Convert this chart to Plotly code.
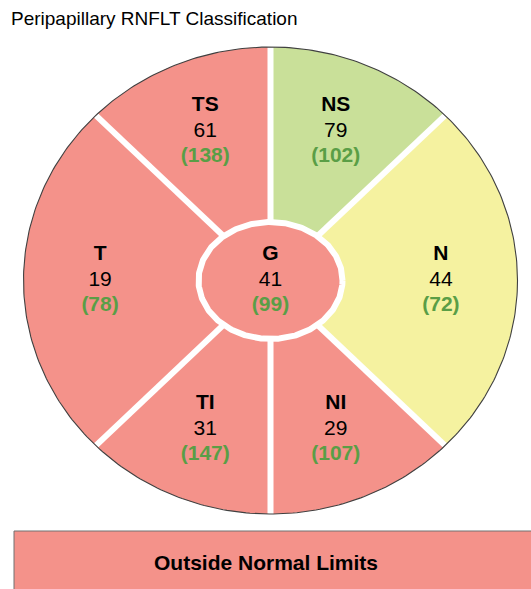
import numpy as np
import plotly.graph_objects as go

# ---------------- data ----------------
sectors = ["TS", "NS", "N", "NI", "TI", "T"]
thickness = [61, 79, 44, 29, 31, 19]
normative = [138, 102, 72, 107, 147, 78]
classes = ["outside", "within", "borderline", "outside", "outside", "outside"]
angle_start = [90, 45, -45, 270, 225, 135]
angle_end = [135, 90, 45, 315, 270, 225]

global_name = "G"
global_value = 41
global_norm = 99
global_class = "outside"

title_text = "Peripapillary RNFLT Classification"
overall_text = "Outside Normal Limits"
overall_class = "outside"

# ---------------- styles ----------------
class_colors = {"outside": "#F4928A", "borderline": "#F5F2A0", "within": "#C9E099"}
norm_color = "#5A9E46"
FONT = "Liberation Sans, Arial, Helvetica, sans-serif"

W, H = 531, 589
CX, CY = 270.5, 280.5      # ellipse centre in pixels
RX, RY = 247.0, 233.5      # outer ellipse radii in pixels
IRX, IRY = 72.0 / RX, 58.5 / RY   # inner ellipse radii (data units)
LABEL_R = 0.69
LINE_DY = 25.5 / RY

fig = go.Figure()

# sector wedges
for name, a0, a1, cl in zip(sectors, angle_start, angle_end, classes):
    t = np.radians(np.linspace(a0, a1, 120))
    xs = np.concatenate([[0], np.cos(t), [0]])
    ys = np.concatenate([[0], np.sin(t), [0]])
    fig.add_trace(go.Scatter(x=xs, y=ys, mode="lines", fill="toself",
                             fillcolor=class_colors[cl], line=dict(width=0),
                             hoverinfo="skip", showlegend=False))

# white separators
bounds = sorted(set([a % 360 for a in angle_start + angle_end]))
sx, sy = [], []
for b in bounds:
    r = np.radians(b)
    sx += [0, np.cos(r), None]
    sy += [0, np.sin(r), None]
fig.add_trace(go.Scatter(x=sx, y=sy, mode="lines", line=dict(color="white", width=6),
                         hoverinfo="skip", showlegend=False))

# outer outline
t = np.radians(np.linspace(0, 360, 400))
fig.add_trace(go.Scatter(x=np.cos(t), y=np.sin(t), mode="lines",
                         line=dict(color="#404040", width=1.1),
                         hoverinfo="skip", showlegend=False))

# inner global ellipse
fig.add_trace(go.Scatter(x=IRX * np.cos(t), y=IRY * np.sin(t), mode="lines", fill="toself",
                         fillcolor=class_colors[global_class], line=dict(color="white", width=6),
                         hoverinfo="skip", showlegend=False))

# labels
lx, ly = [], []
for a0, a1 in zip(angle_start, angle_end):
    m = np.radians((a0 + a1) / 2)
    lx.append(LABEL_R * np.cos(m))
    ly.append(LABEL_R * np.sin(m))
lx.append(0.0)
ly.append(0.0)
names = sectors + [global_name]
vals = thickness + [global_value]
norms = normative + [global_norm]
lx = np.array(lx)
ly = np.array(ly)

fig.add_trace(go.Scatter(x=lx, y=ly + LINE_DY, mode="text",
                         text=[f"<b>{n}</b>" for n in names],
                         textfont=dict(family=FONT, size=21, color="black"),
                         hoverinfo="skip", showlegend=False))
fig.add_trace(go.Scatter(x=lx, y=ly, mode="text",
                         text=[str(v) for v in vals],
                         textfont=dict(family=FONT, size=21, color="black"),
                         hoverinfo="skip", showlegend=False))
fig.add_trace(go.Scatter(x=lx, y=ly - LINE_DY, mode="text",
                         text=[f"<b>({v})</b>" for v in norms],
                         textfont=dict(family=FONT, size=21, color=norm_color),
                         hoverinfo="skip", showlegend=False))

# overall classification box
fig.add_shape(type="rect", xref="paper", yref="paper",
              x0=14 / W, x1=1.05, y0=-0.05, y1=1 - 531 / H,
              fillcolor=class_colors[overall_class], line=dict(color="#707070", width=1),
              layer="above")
fig.add_annotation(xref="paper", yref="paper", x=266 / W, y=1 - 562 / H,
                   text=f"<b>{overall_text}</b>", showarrow=False,
                   xanchor="center", yanchor="middle",
                   font=dict(family=FONT, size=21, color="black"))

# title
fig.add_annotation(xref="paper", yref="paper", x=9 / W, y=1 - 19 / H,
                   text=title_text, showarrow=False,
                   xanchor="left", yanchor="middle",
                   font=dict(family=FONT, size=19, color="black"))

fig.update_xaxes(range=[-CX / RX, (W - CX) / RX], visible=False, fixedrange=True)
fig.update_yaxes(range=[(CY - H) / RY, CY / RY], visible=False, fixedrange=True)
fig.update_layout(width=W, height=H, margin=dict(l=0, r=0, t=0, b=0),
                  plot_bgcolor="white", paper_bgcolor="white", showlegend=False)

fig.write_html("out.html",
               config={"displayModeBar": False},
               post_script="document.body.style.margin='0';document.body.style.padding='0';"
                           "document.body.style.overflow='hidden';")
